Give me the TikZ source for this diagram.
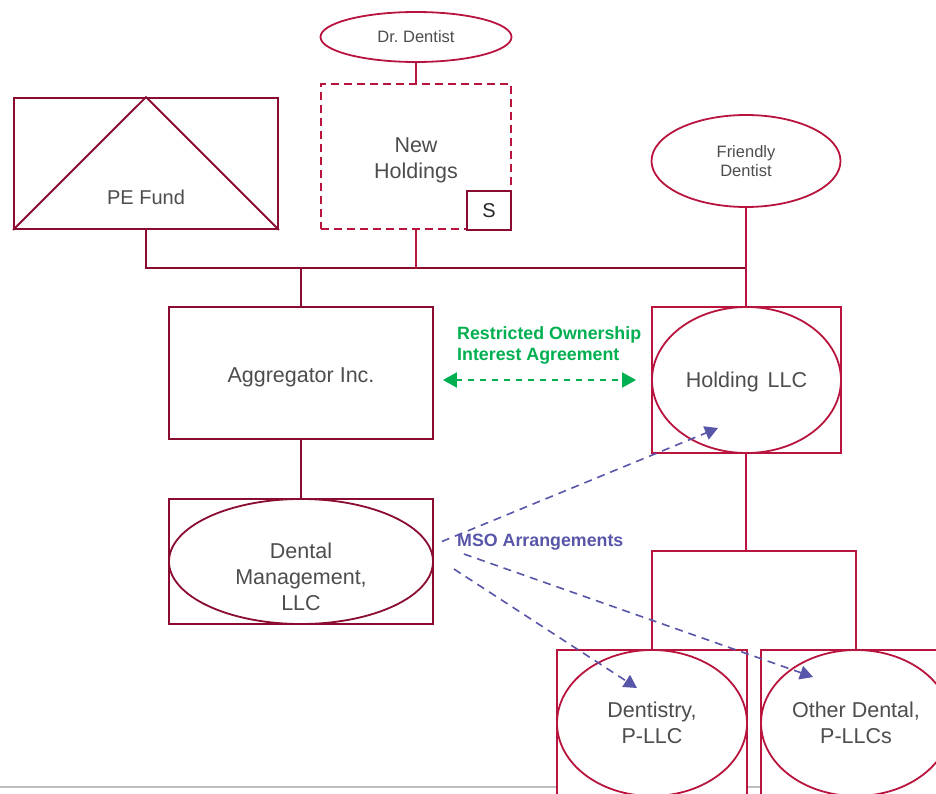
\documentclass[tikz,border=0pt]{standalone}
\usepackage{fontspec}
\setmainfont{Liberation Sans}
\usetikzlibrary{arrows.meta,calc,shapes.geometric}
\definecolor{dkred}{RGB}{138,12,48}
\definecolor{crim}{RGB}{184,20,62}
\definecolor{txt}{RGB}{77,77,77}
\definecolor{grn}{RGB}{0,176,80}
\definecolor{blu}{RGB}{88,86,168}
\definecolor{gry}{RGB}{190,190,190}
\newcommand{\myfs}[2]{\fontsize{#1}{#2}\selectfont}
\begin{document}
\begin{tikzpicture}[x=1pt,y=-1pt,
  rbox/.style={rectangle, draw=#1, line width=1.8pt, fill=white, inner sep=0pt, text=txt, align=center},
  rbox/.default=dkred,
  oval/.style={ellipse, draw=#1, line width=1.8pt, inner sep=0pt, text=txt, align=center},
  oval/.default=crim,
  tx/.style={inner sep=0pt, text=txt, align=center},
  link/.style={line width=1.9pt},
  big/.style={font=\myfs{21.5}{26}},
  small/.style={font=\myfs{16.5}{19}},
  lbl/.style={inner sep=0pt, font=\bfseries\myfs{17.8}{21}},
  msoarrow/.style={blu, line width=1.6pt, dash pattern=on 8pt off 6pt, -{Triangle[width=14pt,length=13pt]}}
]
\useasboundingbox (0,0) rectangle (936,794);
\clip (0,0) rectangle (936,794);
\coordinate (gl) at (0,787);
\coordinate (gr) at (936,787);
\draw[gry, line width=2pt] (gl) -- (gr);

% top row
\node[oval=crim, minimum width=191pt, minimum height=50pt, small] (drd) at (416,37) {Dr.\ Dentist};
\node[rbox=crim, dash pattern=on 8pt off 5pt, minimum width=190pt, minimum height=145pt] (newh) at (416,156.5) {};
\node[tx, big] (newhT) at ($(newh.center)+(0,4)$) {New\\Holdings};
\node[rbox=dkred, text=black!85, minimum width=44pt, minimum height=39pt, font=\myfs{20}{24}] (sbox) at (489,210.5) {S};

\node[rbox=dkred, minimum width=264pt, minimum height=131pt] (pe) at (146,163.5) {};
\draw[dkred, link] (pe.south west) -- (pe.north) -- (pe.south east);
\node[tx, font=\myfs{20}{24}] (pelbl) at (146,197) {PE Fund};

\node[oval=crim, minimum width=189pt, minimum height=92pt, small] (fd) at (746,161) {Friendly\\Dentist};

% middle row
\node[rbox=dkred, minimum width=264pt, minimum height=132pt] (agg) at (301,373) {};
\node[tx, big] (aggT) at ($(agg.center)+(0,4)$) {Aggregator Inc.};
\node[rbox=crim, minimum width=189pt, minimum height=146pt] (hold) at (746.5,380) {};
\node[oval=crim, minimum width=189pt, minimum height=146pt] (holdE) at (hold.center) {};
\node[tx, big] (holdT) at ($(hold.center)+(0,2)$) {Holding\hspace{0.42em}LLC};

\node[rbox=dkred, minimum width=264pt, minimum height=125pt] (dm) at (301,561.5) {};
\node[oval=dkred, minimum width=264pt, minimum height=125pt] (dmE) at (dm.center) {};
\node[tx, big] (dmT) at ($(dm.center)+(0,15)$) {Dental\\Management,\\LLC};

% bottom row
\node[rbox=crim, minimum width=190pt, minimum height=146pt] (dent) at (652,723) {};
\node[oval=crim, minimum width=190pt, minimum height=146pt, big] (dentE) at (dent.center) {Dentistry,\\P-LLC};
\node[rbox=crim, minimum width=190pt, minimum height=146pt] (other) at (856,723) {};
\node[oval=crim, minimum width=190pt, minimum height=146pt, big] (otherE) at (other.center) {Other Dental,\\P-LLCs};

% connectors
\coordinate (busL) at (146,268);
\coordinate (busR) at (746,268);
\coordinate (br) at (746,551);
\draw[link, crim] (drd.south) -- (drd.south |- newh.north);
\draw[link, dkred] (pe.south) -- (busL) -- (busR);
\draw[link, crim] (newh.south) -- (newh.south |- busL);
\draw[link, crim] (fd.south) -- (fd.south |- hold.north);
\draw[link, dkred] (agg.north) -- (agg.north |- busL);
\draw[link, dkred] (agg.south) -- (dm.north);
\draw[link, crim] (hold.south -| br) -- (br);
\draw[link, crim] (dent.north) |- (br) -| (other.north);

% green agreement arrow
\coordinate (gA) at ($(agg.east)+(9,7)$);
\coordinate (gB) at ($(hold.west)+(-15,0)$);
\draw[grn, line width=1.8pt, dash pattern=on 6pt off 6pt, {Triangle[width=15pt,length=14pt]}-{Triangle[width=15pt,length=14pt]}] (gA) -- (gB);
\node[lbl, anchor=north west, text=grn, align=left] (roia) at (457,326) {Restricted Ownership\\Interest Agreement};

% MSO arrows
\coordinate (m1s) at ($(dm.east)+(8,-20)$);
\coordinate (m1e) at ($(hold.center)+(-28.5,48)$);
\coordinate (m2s) at ($(dm.east)+(30,-7.5)$);
\coordinate (m2e) at ($(other.center)+(-43,-46)$);
\coordinate (m3s) at ($(dm.east)+(20,7.5)$);
\coordinate (m3e) at ($(dent.center)+(-15,-35)$);
\draw[msoarrow] (m1s) -- (m1e);
\draw[msoarrow] (m2s) -- (m2e);
\draw[msoarrow] (m3s) -- (m3e);
\node[lbl, anchor=base west, text=blu] (mso) at (457,546) {MSO Arrangements};
\end{tikzpicture}
\end{document}
